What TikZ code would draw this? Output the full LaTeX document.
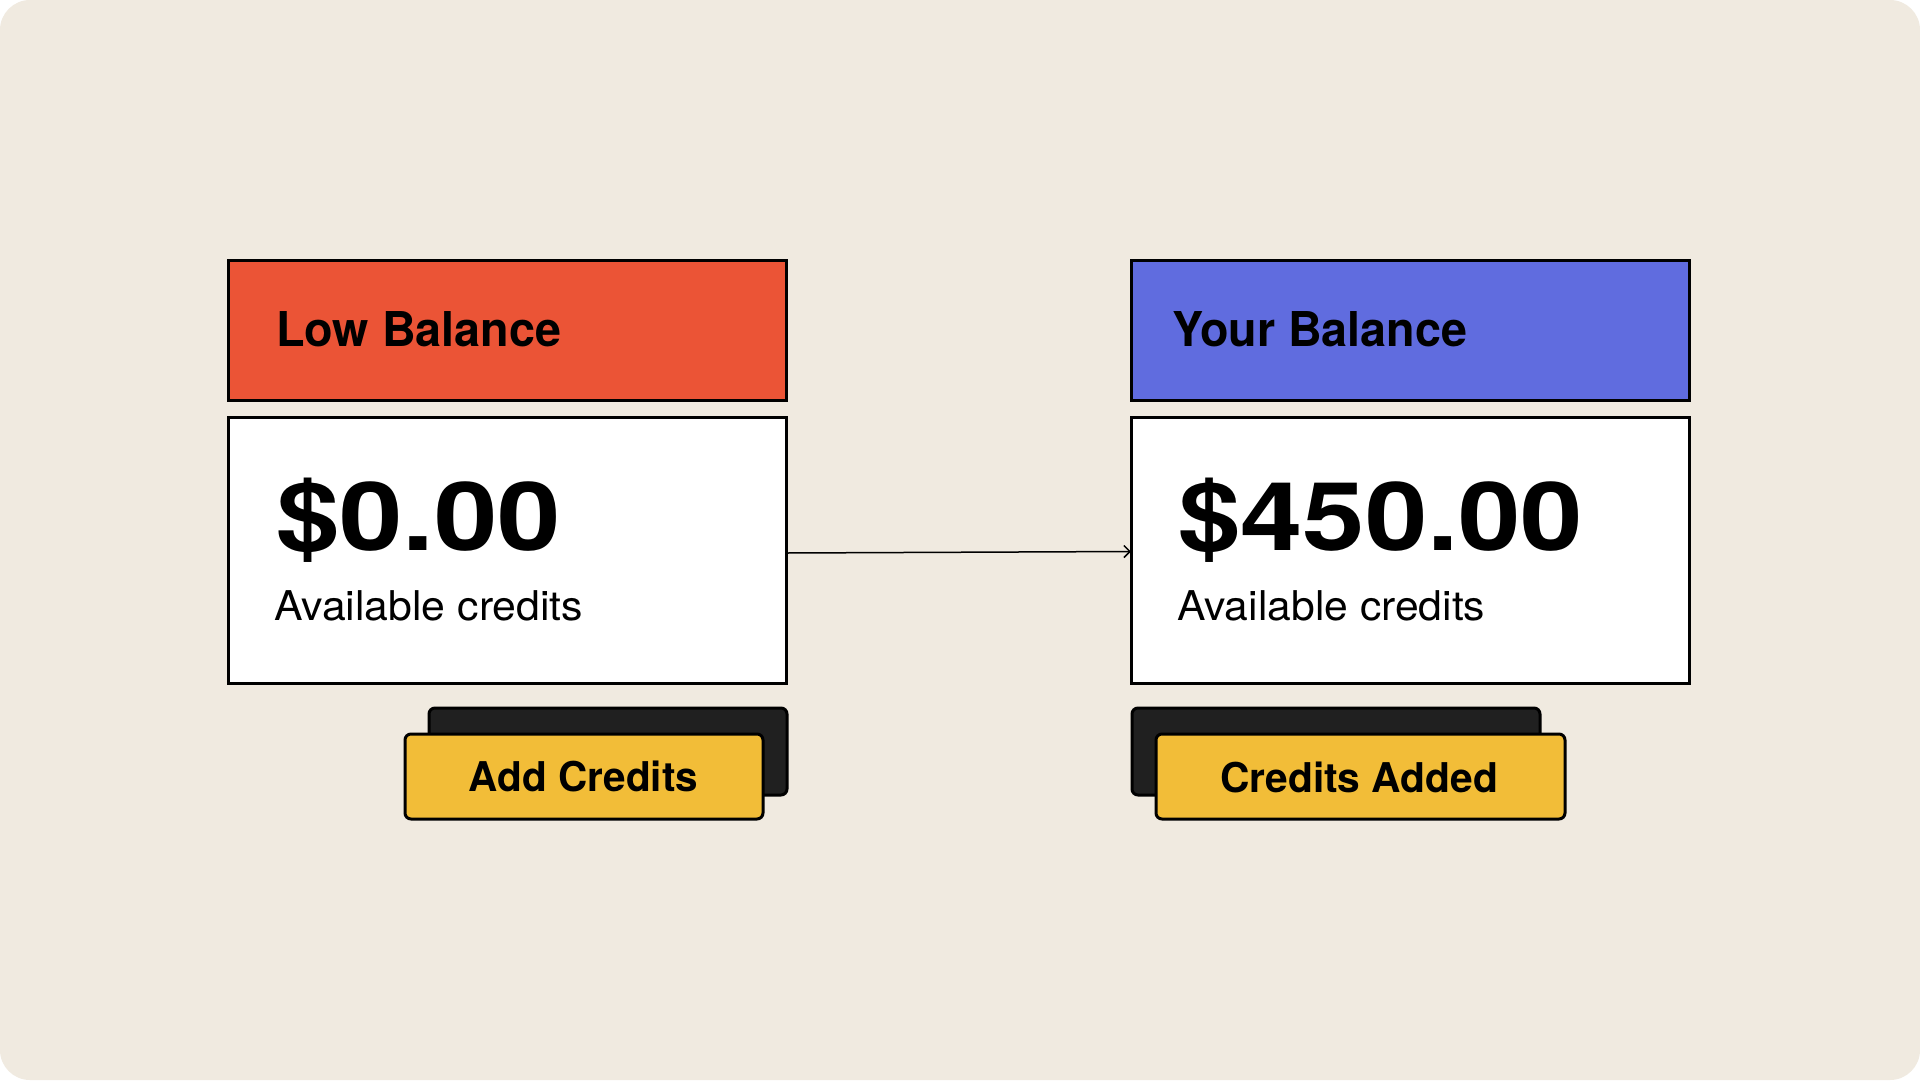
\documentclass[tikz,border=0pt]{standalone}
\usepackage{fontspec}
\setmainfont{TeX Gyre Heros}
\usepackage{graphicx}
\usetikzlibrary{arrows.meta}
\definecolor{bgbeige}{HTML}{F0EAE0}
\definecolor{redhead}{HTML}{EB5436}
\definecolor{bluehead}{HTML}{606CDF}
\definecolor{btnyellow}{HTML}{F2BD38}
\definecolor{shadowblk}{HTML}{202020}
\newcommand{\fitw}[2]{\resizebox{#1}{\height}{#2}}
\begin{document}
\begin{tikzpicture}[x=1pt,y=-1pt,
  headbox/.style={draw=black, line width=3pt, minimum width=558pt, minimum height=140pt, inner sep=0pt, outer sep=0pt, anchor=north west},
  bodybox/.style={draw=black, fill=white, line width=3pt, minimum width=558pt, minimum height=266pt, inner sep=0pt, outer sep=0pt, anchor=north west},
  shadowbtn/.style={draw=black, fill=shadowblk, line width=3pt, rounded corners=6pt, inner sep=0pt, outer sep=0pt, anchor=north west},
  yellowbtn/.style={draw=black, fill=btnyellow, line width=3pt, rounded corners=6pt, inner sep=0pt, outer sep=0pt, anchor=north west},
  titletext/.style={font=\fontsize{48}{56}\selectfont\bfseries, anchor=base west, inner sep=0pt},
  amounttext/.style={font=\fontsize{95}{110}\selectfont\bfseries, anchor=base west, inner sep=0pt},
  subtext/.style={font=\fontsize{41}{48}\selectfont, anchor=base west, inner sep=0pt},
  btntext/.style={font=\fontsize{41}{48}\selectfont\bfseries, anchor=base, inner sep=0pt},
  flow/.style={draw=black, line width=1.5pt, -{Straight Barb[length=6pt,width=12pt]}}
]
\useasboundingbox (0,0) rectangle (1920,1080);
\fill[white] (0,0) rectangle (1920,1080);
\fill[bgbeige, rounded corners=30pt] (0,0) rectangle (1920,1080);

% left card
\node[headbox, fill=redhead] (hl) at (228,260) {};
\node[bodybox] (bl) at (228,417) {};
\node[titletext] (tl) at (276,346) {\fitw{285pt}{Low Balance}};
\node[amounttext] (al) at (276,550) {\fitw{285pt}{\$0.00}};
\node[subtext] (sl) at (274,620) {\fitw{309pt}{Available credits}};

% right card
\node[headbox, fill=bluehead] (hr) at (1131,260) {};
\node[bodybox] (br) at (1131,417) {};
\node[titletext] (tr) at (1172,346) {\fitw{295pt}{Your Balance}};
\node[amounttext] (ar) at (1178,550) {\fitw{405pt}{\$450.00}};
\node[subtext] (sr) at (1177,620) {\fitw{308pt}{Available credits}};

% connector
\draw[flow] ([yshift=-3pt]bl.east) -- ([yshift=-1.5pt]br.west);

% left button
\node[shadowbtn, minimum width=358pt, minimum height=87pt] (shl) at (429,708) {};
\node[yellowbtn, minimum width=358pt, minimum height=85pt] (ybl) at (405,734) {};
\node[btntext] (btl) at (583.5,791) {\fitw{229pt}{Add Credits}};

% right button
\node[shadowbtn, minimum width=408pt, minimum height=87pt] (shr) at (1132,708) {};
\node[yellowbtn, minimum width=409pt, minimum height=85pt] (ybr) at (1156,734) {};
\node[btntext] (btr) at (1359,792) {\fitw{278pt}{Credits Added}};
\end{tikzpicture}
\end{document}
